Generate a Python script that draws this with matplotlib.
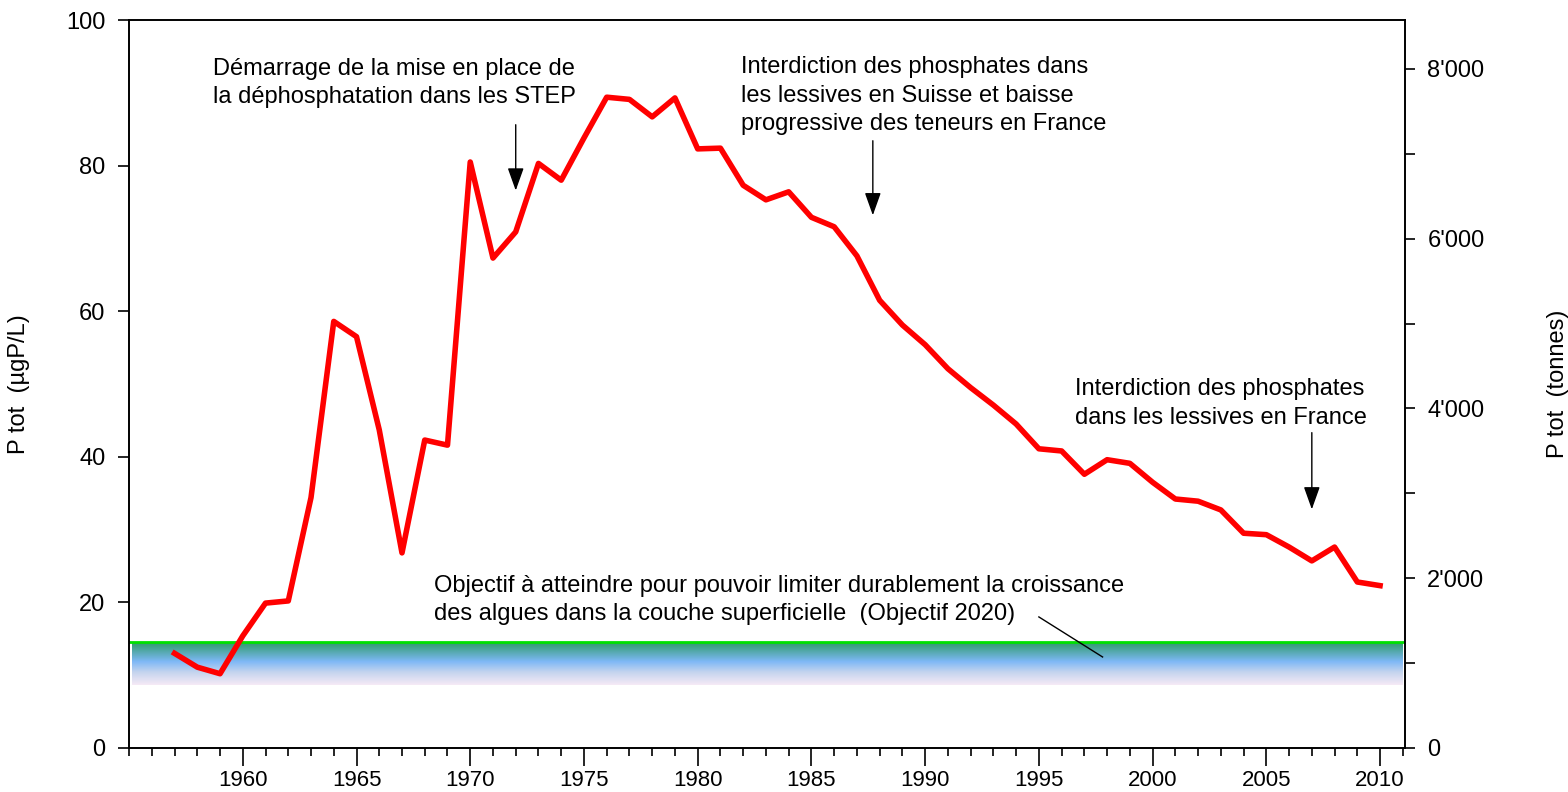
import numpy as np
import matplotlib.pyplot as plt
from matplotlib.colors import LinearSegmentedColormap
from matplotlib.ticker import MultipleLocator, FuncFormatter

plt.rcParams['font.family'] = ['Liberation Sans', 'DejaVu Sans']

# P tot (µgP/L) per year
years = np.arange(1957, 2011)
ptot = [13.0, 11.1, 10.2, 15.4, 19.9, 20.2, 34.4, 58.6, 56.5, 43.7,
        26.8, 42.3, 41.6, 80.5, 67.3, 70.9, 80.3, 78.0, 83.8, 89.4,
        89.1, 86.7, 89.3, 82.3, 82.4, 77.3, 75.3, 76.4, 72.9, 71.6,
        67.6, 61.5, 58.1, 55.4, 52.1, 49.5, 47.1, 44.5, 41.1, 40.8,
        37.6, 39.6, 39.1, 36.5, 34.2, 33.9, 32.7, 29.5, 29.3, 27.6,
        25.7, 27.6, 22.8, 22.3]

objective = 14.6          # target line
band = (8.6, 14.4)        # gradient band under the target
tonnes_per_ugl = 85.76    # right axis scale

notes = [
    ("Démarrage de la mise en place de\nla déphosphatation dans les STEP", 1958.7, 94.8),
    ("Interdiction des phosphates dans\nles lessives en Suisse et baisse\nprogressive des teneurs en France", 1981.9, 95.0),
    ("Interdiction des phosphates\ndans les lessives en France", 1996.6, 50.8),
    ("Objectif à atteindre pour pouvoir limiter durablement la croissance\n"
     "des algues dans la couche superficielle  (Objectif 2020)", 1968.4, 23.8),
]
arrows = [(1972, 86.0, 76.2), (1987.7, 83.8, 72.8), (2007, 43.7, 32.4)]

fig = plt.figure(figsize=(15.68, 7.92), dpi=100)
ax = fig.add_axes([0.0823, 0.0556, 0.8138, 0.9191])

# gradient band
cmap = LinearSegmentedColormap.from_list(
    "band", [(0.0, "#f6eaf6"), (0.3, "#c4d4ee"), (0.55, "#7eb8f6"), (1.0, "#2e9a68")])
grad = np.linspace(0, 1, 256).reshape(-1, 1)
ax.imshow(grad, cmap=cmap, origin="lower", aspect="auto",
          extent=[1955.15, 2011.0, band[0], band[1]], zorder=1)
ax.axhline(objective, color="#00e000", lw=2.0, zorder=2)

ax.plot(years, ptot, color="red", lw=4.0, zorder=3)

for txt, x, y in notes:
    ax.text(x, y, txt, ha="left", va="top", fontsize=17, linespacing=1.38, zorder=4)
for x, y0, y1 in arrows:
    ax.annotate("", xy=(x, y1), xytext=(x, y0),
                arrowprops=dict(arrowstyle="-|>,head_width=0.5,head_length=1.4",
                                color="black", lw=1.0))
ax.plot([1995.0, 1997.8], [18.0, 12.5], color="black", lw=1.0, zorder=4)

ax.set_xlim(1955, 2011.1)
ax.set_ylim(0, 100)
ax.xaxis.set_minor_locator(MultipleLocator(1))
ax.set_xticks([1960, 1965, 1970, 1975, 1980, 1985, 1990, 1995, 2000, 2005, 2010])
ax.set_yticks([0, 20, 40, 60, 80, 100])
ax.tick_params(axis="x", which="major", length=13, width=1.2, labelsize=16, pad=3)
ax.tick_params(axis="x", which="minor", length=6, width=1.2)
ax.tick_params(axis="y", length=8, width=1.2, labelsize=17, pad=9)
ax.set_ylabel("P tot  (µgP/L)", fontsize=17)
ax.yaxis.set_label_coords(-0.0776, 0.5)
for s in ax.spines.values():
    s.set_linewidth(1.2)

ax2 = ax.twinx()
ax2.set_ylim(0, 100 * tonnes_per_ugl)
ax2.yaxis.set_major_locator(MultipleLocator(2000))
ax2.yaxis.set_minor_locator(MultipleLocator(1000))
ax2.yaxis.set_major_formatter(FuncFormatter(lambda v, p: f"{int(v):,}".replace(",", "'")))
ax2.tick_params(axis="y", which="both", length=7, width=1.2, labelsize=17, pad=9)
ax2.set_ylabel("P tot  (tonnes)", fontsize=17)
ax2.yaxis.set_label_coords(1.111, 0.5)
for s in ax2.spines.values():
    s.set_linewidth(1.2)

fig.savefig("out.png", dpi=100)
